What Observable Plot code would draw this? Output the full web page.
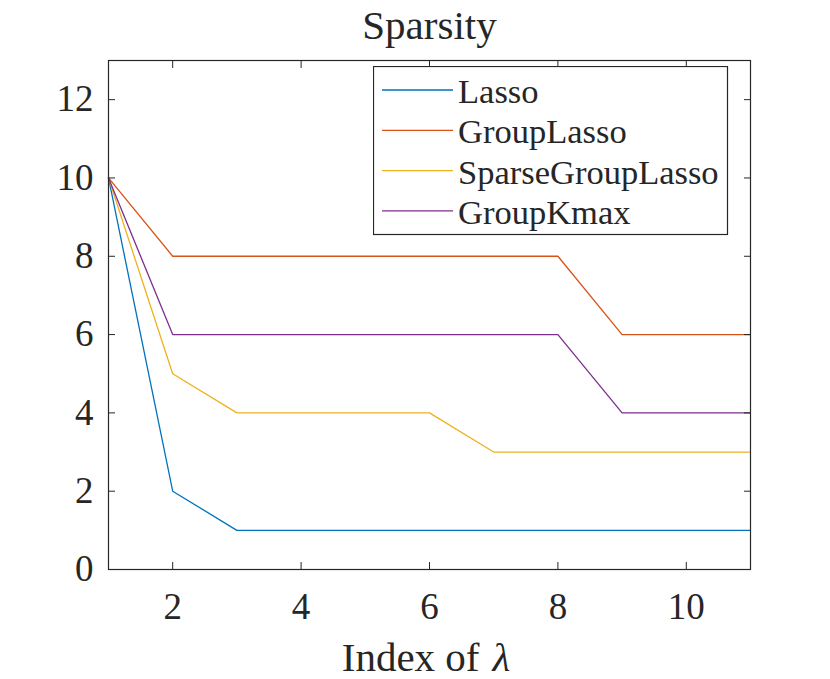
<!DOCTYPE html>
<html>
<head>
<meta charset="utf-8">
<script src="https://cdn.jsdelivr.net/npm/d3@7"></script>
<script src="https://cdn.jsdelivr.net/npm/@observablehq/plot@0.6"></script>
<style>
  html, body { margin: 0; padding: 0; background: #fff; }
  #wrap { position: relative; width: 830px; height: 679px; font-family: "Liberation Serif"; }
  #wrap svg, #wrap text { font-family: "Liberation Serif" !important; }
  #legend { position: absolute; left: 373px; top: 66px; }
</style>
</head>
<body>
<div id="wrap"></div>
<script>
// ---- data ----
const lambdaIndex = [1, 2, 3, 4, 5, 6, 7, 8, 9, 10, 11];
const seriesNames = ["Lasso", "GroupLasso", "SparseGroupLasso", "GroupKmax"];
const seriesColors = ["#0072BD", "#D95319", "#EDB120", "#7E2F8E"];
const lasso            = [10, 2, 1, 1, 1, 1, 1, 1, 1, 1, 1];
const groupLasso       = [10, 8, 8, 8, 8, 8, 8, 8, 6, 6, 6];
const sparseGroupLasso = [10, 5, 4, 4, 4, 4, 3, 3, 3, 3, 3];
const groupKmax        = [10, 6, 6, 6, 6, 6, 6, 6, 4, 4, 4];
const xTicks = [2, 4, 6, 8, 10];
const yTicks = [0, 2, 4, 6, 8, 10, 12];
const titleText = "Sparsity";
const xLabelText = "Index of";
const xLabelSymbol = "λ";

const seriesValues = [lasso, groupLasso, sparseGroupLasso, groupKmax];
const rows = seriesNames.flatMap((name, i) =>
  seriesValues[i].map((v, j) => ({x: lambdaIndex[j], y: v, series: name})));

const axisColor = "#262626";
const font = "Liberation Serif";

const chart = Plot.plot({
  width: 830,
  height: 679,
  marginLeft: 108,
  marginRight: 80,
  marginTop: 60,
  marginBottom: 110,
  style: {fontFamily: font, fontSize: "36px", color: axisColor, background: "white"},
  x: {domain: [1, 11]},
  y: {domain: [0, 13]},
  color: {domain: seriesNames, range: seriesColors},
  marks: [
    Plot.line(rows, {x: "x", y: "y", stroke: "series", strokeWidth: 1.3}),
    Plot.frame({stroke: axisColor, strokeWidth: 1.2}),
    Plot.axisX({anchor: "bottom", ticks: xTicks, tickSize: -7, tickPadding: 30, label: null, stroke: axisColor, fill: axisColor, fontSize: 37}),
    Plot.axisX({anchor: "top", ticks: xTicks, tickSize: -7, tickFormat: () => "", label: null, stroke: axisColor}),
    Plot.axisY({anchor: "left", ticks: yTicks, tickSize: -7, tickPadding: 22, label: null, stroke: axisColor, fill: axisColor, fontSize: 37}),
    Plot.axisY({anchor: "right", ticks: yTicks, tickSize: -7, tickFormat: () => "", label: null, stroke: axisColor}),
    Plot.text([titleText], {frameAnchor: "top", lineAnchor: "bottom", dy: -22, fontSize: 41, fill: axisColor}),
    Plot.text([xLabelText], {frameAnchor: "bottom", lineAnchor: "bottom", textAnchor: "end", dx: 50, dy: 101, fontSize: 41, fill: axisColor}),
    Plot.text([xLabelSymbol], {frameAnchor: "bottom", lineAnchor: "bottom", textAnchor: "start", dx: 63, dy: 101, fontSize: 41, fontStyle: "italic", fill: axisColor})
  ]
});
const wrap = document.getElementById("wrap");
wrap.appendChild(chart);

// ---- legend overlay ----
const lw = 354, lh = 168, rowStep = 40.3, row0 = 24;
const legend = d3.create("svg")
  .attr("id", "legend")
  .attr("width", lw + 2)
  .attr("height", lh + 2)
  .style("font-family", font);
legend.append("rect")
  .attr("x", 0.5).attr("y", 0.5).attr("width", lw).attr("height", lh)
  .attr("fill", "white").attr("stroke", axisColor).attr("stroke-width", 1.2);
seriesNames.forEach((name, i) => {
  const cy = row0 + i * rowStep;
  legend.append("line")
    .attr("x1", 9).attr("x2", 80).attr("y1", cy).attr("y2", cy)
    .attr("stroke", seriesColors[i]).attr("stroke-width", 1.3);
  legend.append("text")
    .attr("x", 85).attr("y", cy + 13)
    .attr("font-size", 34.5).attr("fill", axisColor)
    .text(name);
});
wrap.appendChild(legend.node());
</script>
</body>
</html>
